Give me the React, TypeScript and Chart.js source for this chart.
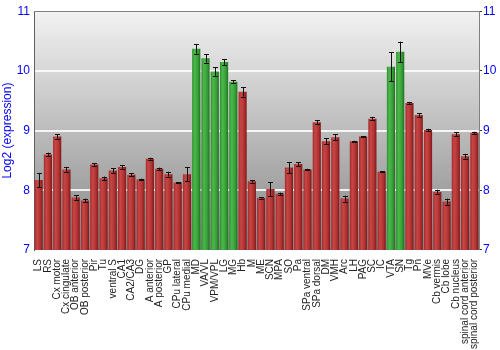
import React, { useEffect, useRef } from "react";
import { Chart, registerables } from "chart.js";

Chart.register(...registerables);

const FONT = "'Liberation Sans', Arial, Helvetica, sans-serif";
Chart.defaults.font.family = FONT;

const categories = [
  "LS", "RS", "Cx motor", "Cx cingulate", "OB anterior", "OB posterior", "Pir", "Tu",
  "ventral S", "CA1", "CA2/CA3", "DG", "A anterior", "A posterior", "GP", "CPu lateral",
  "CPu medial", "MD", "VA/VL", "VPM/VPL", "LG", "MG", "Hb", "M", "ME", "SCN", "MPA", "SO",
  "Pa", "SPa ventral", "SPa dorsal", "DM", "VMH", "Arc", "LH", "PAG", "SC", "IC", "VTA", "SN",
  "Tg", "Pn", "MVe", "Cb vermis", "Cb lobe", "Cb nucleus", "spinal cord anterior", "spinal cord posterior",
];

const values = [
  8.17, 8.60, 8.90, 8.35, 7.88, 7.83, 8.43, 8.20,
  8.33, 8.39, 8.26, 8.18, 8.53, 8.36, 8.27, 8.13,
  8.27, 10.37, 10.21, 9.99, 10.15, 9.82, 9.65, 8.15, 7.87, 8.02, 7.94, 8.38,
  8.44, 8.35, 9.14, 8.82, 8.89, 7.86, 8.82, 8.90, 9.20, 8.31, 10.07, 10.32,
  9.46, 9.26, 9.01, 7.97, 7.81, 8.94, 8.57, 8.96,
];

const errors = [
  0.12, 0.03, 0.035, 0.04, 0.04, 0.03, 0.02, 0.03,
  0.04, 0.03, 0.025, 0.015, 0.015, 0.02, 0.04, 0.01,
  0.12, 0.08, 0.07, 0.07, 0.05, 0.02, 0.08, 0.02, 0.01, 0.12, 0.02, 0.09,
  0.03, 0.01, 0.03, 0.05, 0.05, 0.05, 0.01, 0.01, 0.03, 0.01, 0.245, 0.17,
  0.02, 0.03, 0.02, 0.04, 0.05, 0.03, 0.04, 0.02,
];

const highlighted = ["MD", "VA/VL", "VPM/VPL", "LG", "MG", "VTA", "SN"];

const yTicks = [7, 8, 9, 10, 11];

const bgPlugin = {
  id: "bgGradient",
  beforeDraw(chart: any) {
    const { ctx, chartArea } = chart;
    if (!chartArea) return;
    const g = ctx.createLinearGradient(0, chartArea.top, 0, chartArea.bottom);
    g.addColorStop(0, "#f2f2f2");
    g.addColorStop(1, "#868686");
    ctx.save();
    ctx.fillStyle = g;
    ctx.fillRect(chartArea.left, chartArea.top, chartArea.right - chartArea.left, chartArea.bottom - chartArea.top);
    ctx.restore();
  },
  afterDraw(chart: any) {
    const { ctx, chartArea } = chart;
    ctx.save();
    ctx.strokeStyle = "#808080";
    ctx.lineWidth = 1;
    ctx.beginPath();
    ctx.moveTo(chartArea.left, Math.round(chartArea.top) + 0.5);
    ctx.lineTo(chartArea.right, Math.round(chartArea.top) + 0.5);
    ctx.stroke();
    ctx.restore();
  },
};

const errPlugin = {
  id: "errorBars",
  afterDatasetsDraw(chart: any) {
    const { ctx } = chart;
    const meta = chart.getDatasetMeta(0);
    const ys = chart.scales.y;
    ctx.save();
    ctx.strokeStyle = "#111";
    ctx.lineWidth = 1;
    meta.data.forEach((bar: any, i: number) => {
      const x = Math.round(bar.x) + 0.5;
      const y1 = ys.getPixelForValue(values[i] + errors[i]);
      const y2 = ys.getPixelForValue(values[i] - errors[i]);
      ctx.beginPath();
      ctx.moveTo(x, y1);
      ctx.lineTo(x, y2);
      ctx.moveTo(x - 2.5, Math.round(y1) + 0.5);
      ctx.lineTo(x + 2.5, Math.round(y1) + 0.5);
      ctx.moveTo(x - 2.5, Math.round(y2) + 0.5);
      ctx.lineTo(x + 2.5, Math.round(y2) + 0.5);
      ctx.stroke();
    });
    ctx.restore();
  },
};

export default function App() {
  const ref = useRef<HTMLCanvasElement>(null);
  useEffect(() => {
    if (!ref.current) return;
    const chart = new Chart(ref.current, {
      type: "bar",
      data: {
        labels: categories,
        datasets: [
          {
            data: values,
            barPercentage: 0.88,
            categoryPercentage: 1,
            borderWidth: 0,
            backgroundColor: (c: any) => {
              const ch = c.chart;
              const area = ch.chartArea;
              const label = categories[c.dataIndex];
              const green = highlighted.includes(label);
              if (!area || !ch.scales.x) return green ? "#3a9f3a" : "#b43434";
              const xs = ch.scales.x;
              const cx = xs.getPixelForValue(c.dataIndex);
              const w = xs.width / categories.length * 0.88;
              const g = ch.ctx.createLinearGradient(cx - w / 2, 0, cx + w / 2, 0);
              if (green) {
                g.addColorStop(0, "#2f8f2f");
                g.addColorStop(0.3, "#4cb84c");
                g.addColorStop(0.7, "#36a036");
                g.addColorStop(1, "#1f701f");
              } else {
                g.addColorStop(0, "#a22a2a");
                g.addColorStop(0.3, "#c84646");
                g.addColorStop(0.7, "#b03232");
                g.addColorStop(1, "#7e1717");
              }
              return g;
            },
          },
        ],
      },
      options: {
        animation: false,
        responsive: false,
        maintainAspectRatio: false,
        font: { family: FONT },
        layout: { padding: { top: -2, right: 0, left: 0, bottom: 0 } },
        plugins: { legend: { display: false }, tooltip: { enabled: false } },
        scales: {
          x: {
            grid: { display: false },
            border: { display: true, color: "#808080" },
            ticks: {
              autoSkip: false,
              maxRotation: 90,
              minRotation: 90,
              color: "#222",
              font: { size: 10, family: FONT },
              padding: 1,
            },
          },
          y: {
            position: "left",
            min: 7,
            max: 11,
            afterBuildTicks: (s: any) => { s.ticks = yTicks.map((v) => ({ value: v })); },
            afterFit: (s: any) => { s.width = 34; },
            grid: {
              color: (c: any) => (c.tick && c.tick.value > 7 && c.tick.value < 11 ? "rgba(255,255,255,0.85)" : "rgba(0,0,0,0)"),
              lineWidth: 2,
              drawTicks: false,
            },
            border: { display: true, color: "#606060" },
            ticks: { color: "#0000ff", font: { size: 12, family: FONT }, padding: 4 },
            title: { display: true, text: "Log2 (expression)", color: "#0000ff", font: { size: 12, family: FONT }, padding: 0 },
          },
          y2: {
            position: "right",
            min: 7,
            max: 11,
            afterBuildTicks: (s: any) => { s.ticks = yTicks.map((v) => ({ value: v })); },
            afterFit: (s: any) => { s.width = 21; },
            grid: { display: true, drawOnChartArea: false, drawTicks: true, tickLength: 3, color: "#333" },
            border: { display: true, color: "#808080" },
            ticks: { color: "#0000ff", font: { size: 12, family: FONT }, padding: 1 },
          },
        },
      },
      plugins: [bgPlugin, errPlugin],
    });
    return () => chart.destroy();
  }, []);
  return (
    <div style={{ position: "fixed", left: 0, top: 0, width: 500, height: 350, background: "#fff" }}>
      <canvas ref={ref} width={500} height={350} style={{ width: 500, height: 350 }} />
    </div>
  );
}
